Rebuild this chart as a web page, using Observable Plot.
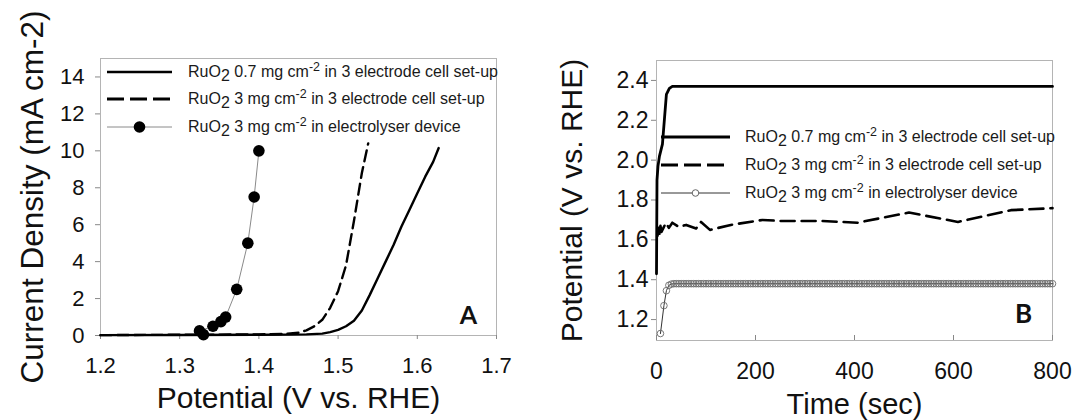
<!DOCTYPE html>
<html>
<head>
<meta charset="utf-8">
<script src="https://cdn.jsdelivr.net/npm/d3@7"></script>
<script src="https://cdn.jsdelivr.net/npm/@observablehq/plot@0.6"></script>
<style>
  html,body{margin:0;padding:0;background:#fff;}
  #wrap{position:relative;width:1075px;height:420px;overflow:hidden;font-family:"Liberation Sans",Arial,sans-serif;}
  .panel{position:absolute;top:0;}
  .legend-row{position:absolute;height:22px;display:flex;align-items:center;white-space:nowrap;font-size:16px;color:#1a1a1a;}
  .legend-row svg{flex:none;overflow:visible;}
  .sub{position:relative;top:0.28em;}
  .sup{position:relative;top:-0.45em;font-size:0.78em;}
</style>
</head>
<body>
<div id="wrap"></div>
<script>
// ---------- Panel A data ----------
const aXTicks = [1.2, 1.3, 1.4, 1.5, 1.6, 1.7];
const aYTicks = [0, 2, 4, 6, 8, 10, 12, 14];
const aXTitle = "Potential (V vs. RHE)";
const aYTitle = "Current Density (mA cm-2)";
const aPanelLabel = "A";

const a07Potential = [1.20, 1.30, 1.40, 1.44, 1.46, 1.48, 1.49, 1.50, 1.51, 1.52, 1.53, 1.54, 1.55, 1.56, 1.57, 1.58, 1.59, 1.60, 1.61, 1.62, 1.627];
const a07Current   = [0.02, 0.03, 0.04, 0.05, 0.06, 0.10, 0.18, 0.30, 0.50, 0.80, 1.35, 2.20, 3.10, 4.00, 4.90, 5.90, 6.80, 7.70, 8.60, 9.40, 10.15];

const a3Potential = [1.20, 1.30, 1.40, 1.43, 1.45, 1.46, 1.47, 1.48, 1.49, 1.50, 1.51, 1.52, 1.53, 1.538];
const a3Current   = [0.02, 0.04, 0.06, 0.08, 0.15, 0.28, 0.50, 0.85, 1.50, 2.40, 3.80, 6.20, 8.80, 10.40];

const aDevPotential = [1.330, 1.325, 1.342, 1.352, 1.358, 1.372, 1.386, 1.394, 1.400];
const aDevCurrent   = [0.05, 0.25, 0.50, 0.75, 1.00, 2.50, 5.00, 7.50, 10.00];

// ---------- Panel B data ----------
const bXTicks = [0, 200, 400, 600, 800];
const bYTicks = [1.2, 1.4, 1.6, 1.8, 2.0, 2.2, 2.4];
const bXTitle = "Time (sec)";
const bYTitle = "Potential (V vs. RHE)";
const bPanelLabel = "B";

const b07Time      = [0, 1, 3, 6, 12, 20, 26, 32, 800];
const b07Potential = [1.43, 1.90, 1.97, 2.02, 2.08, 2.33, 2.36, 2.37, 2.37];

const b3Time      = [2, 4, 6, 8, 10, 14, 19, 25, 32, 45, 60, 80, 90, 108, 150, 214, 250, 330, 406, 510, 609, 716, 800];
const b3Potential = [1.62, 1.66, 1.63, 1.67, 1.64, 1.66, 1.685, 1.66, 1.686, 1.665, 1.675, 1.657, 1.69, 1.65, 1.675, 1.70, 1.695, 1.695, 1.686, 1.737, 1.69, 1.749, 1.759];

const bDevTime = [8, 15, 20, 25,
  30, 35, 40, 45, 50, 55, 60, 65, 70, 75,
  80, 85, 90, 95, 100, 105, 110, 115, 120, 125,
  130, 135, 140, 145, 150, 155, 160, 165, 170, 175,
  180, 185, 190, 195, 200, 205, 210, 215, 220, 225,
  230, 235, 240, 245, 250, 255, 260, 265, 270, 275,
  280, 285, 290, 295, 300, 305, 310, 315, 320, 325,
  330, 335, 340, 345, 350, 355, 360, 365, 370, 375,
  380, 385, 390, 395, 400, 405, 410, 415, 420, 425,
  430, 435, 440, 445, 450, 455, 460, 465, 470, 475,
  480, 485, 490, 495, 500, 505, 510, 515, 520, 525,
  530, 535, 540, 545, 550, 555, 560, 565, 570, 575,
  580, 585, 590, 595, 600, 605, 610, 615, 620, 625,
  630, 635, 640, 645, 650, 655, 660, 665, 670, 675,
  680, 685, 690, 695, 700, 705, 710, 715, 720, 725,
  730, 735, 740, 745, 750, 755, 760, 765, 770, 775,
  780, 785, 790, 795, 800];
const bDevPotential = [1.13, 1.27, 1.345, 1.372,
  1.378, 1.38, 1.38, 1.38, 1.38, 1.38, 1.38, 1.38, 1.38, 1.38,
  1.38, 1.38, 1.38, 1.38, 1.38, 1.38, 1.38, 1.38, 1.38, 1.38,
  1.38, 1.38, 1.38, 1.38, 1.38, 1.38, 1.38, 1.38, 1.38, 1.38,
  1.38, 1.38, 1.38, 1.38, 1.38, 1.38, 1.38, 1.38, 1.38, 1.38,
  1.38, 1.38, 1.38, 1.38, 1.38, 1.38, 1.38, 1.38, 1.38, 1.38,
  1.38, 1.38, 1.38, 1.38, 1.38, 1.38, 1.38, 1.38, 1.38, 1.38,
  1.38, 1.38, 1.38, 1.38, 1.38, 1.38, 1.38, 1.38, 1.38, 1.38,
  1.38, 1.38, 1.38, 1.38, 1.38, 1.38, 1.38, 1.38, 1.38, 1.38,
  1.38, 1.38, 1.38, 1.38, 1.38, 1.38, 1.38, 1.38, 1.38, 1.38,
  1.38, 1.38, 1.38, 1.38, 1.38, 1.38, 1.38, 1.38, 1.38, 1.38,
  1.38, 1.38, 1.38, 1.38, 1.38, 1.38, 1.38, 1.38, 1.38, 1.38,
  1.38, 1.38, 1.38, 1.38, 1.38, 1.38, 1.38, 1.38, 1.38, 1.38,
  1.38, 1.38, 1.38, 1.38, 1.38, 1.38, 1.38, 1.38, 1.38, 1.38,
  1.38, 1.38, 1.38, 1.38, 1.38, 1.38, 1.38, 1.38, 1.38, 1.38,
  1.38, 1.38, 1.38, 1.38, 1.38, 1.38, 1.38, 1.38, 1.38, 1.38,
  1.38, 1.38, 1.38, 1.38, 1.38];

// ---------- Legend text ----------
const legendLoadings = ["0.7", "3", "3"];
const legendSetups = ["in 3 electrode cell set-up", "in 3 electrode cell set-up", "in electrolyser device"];

// ---------- helpers ----------
const FONT = '"Liberation Sans", Arial, sans-serif';
const pts = (xs, ys) => xs.map((x, i) => ({x, y: ys[i]}));

const a07 = pts(a07Potential, a07Current);
const a3 = pts(a3Potential, a3Current);
const aDev = pts(aDevPotential, aDevCurrent);
const b07 = pts(b07Time, b07Potential);
const b3 = pts(b3Time, b3Potential);
const bDev = pts(bDevTime, bDevPotential);

const wrap = document.getElementById("wrap");

// ---------- Panel A ----------
const plotA = Plot.plot({
  width: 540, height: 420,
  marginLeft: 100, marginRight: 44, marginTop: 58, marginBottom: 85,
  style: {fontFamily: FONT, background: "transparent", overflow: "visible", color: "#111"},
  x: {domain: [1.2, 1.7]},
  y: {domain: [0, 15]},
  marks: [
    Plot.frame({stroke: "#b4b4b4"}),
    Plot.axisY(aYTicks, {tickSize: 5, tickPadding: 11, fontSize: 22, stroke: "#888", fill: "#111", label: null}),
    Plot.axisX(aXTicks, {tickSize: 4, tickPadding: 18, fontSize: 22, stroke: "#888", fill: "#111", label: null, tickFormat: d3.format(".1f")}),
    Plot.line(a3, {x: "x", y: "y", stroke: "#000", strokeWidth: 2.4, strokeDasharray: "11,6"}),
    Plot.line(a07, {x: "x", y: "y", stroke: "#000", strokeWidth: 2.4}),
    Plot.line(aDev, {x: "x", y: "y", stroke: "#8a8a8a", strokeWidth: 1}),
    Plot.dot(aDev, {x: "x", y: "y", r: 5.8, fill: "#000", stroke: "none"}),
    Plot.text([aXTitle], {frameAnchor: "bottom", dy: 63, fontSize: 30, fill: "#111", textAnchor: "middle", lineAnchor: "middle"}),
    Plot.text([aYTitle], {frameAnchor: "left", rotate: -90, dx: -68, fontSize: 31.5, fill: "#111", textAnchor: "middle", lineAnchor: "middle"}),
    Plot.text([aPanelLabel], {frameAnchor: "bottom-right", dx: -28, dy: -20, fontSize: 25, fontWeight: "bold", fontFamily: "Lato, sans-serif", textAnchor: "middle", lineAnchor: "middle", fill: "#111"})
  ]
});
plotA.classList.add("panel");
plotA.style.left = "0px";
wrap.appendChild(plotA);

// ---------- Panel B ----------
const plotB = Plot.plot({
  width: 535, height: 420,
  marginLeft: 116, marginRight: 23, marginTop: 60, marginBottom: 80,
  style: {fontFamily: FONT, background: "transparent", overflow: "visible", color: "#111"},
  x: {domain: [0, 800]},
  y: {domain: [1.095, 2.5]},
  marks: [
    Plot.frame({stroke: "#b4b4b4"}),
    Plot.axisY(bYTicks, {tickSize: 5, tickPadding: 3, fontSize: 23, stroke: "#888", fill: "#111", label: null, tickFormat: d3.format(".1f")}),
    Plot.axisX(bXTicks, {tickSize: 0, tickPadding: 22, fontSize: 23, fill: "#111", label: null}),
    Plot.tickX(bXTicks, {x: d => d, insetTop: 275, stroke: "#888"}),
    Plot.line(b3, {x: "x", y: "y", stroke: "#000", strokeWidth: 2.6, strokeDasharray: "14,7"}),
    Plot.line(b07, {x: "x", y: "y", stroke: "#000", strokeWidth: 2.8}),
    Plot.line(bDev, {x: "x", y: "y", stroke: "#333", strokeWidth: 1}),
    Plot.dot(bDev, {x: "x", y: "y", r: 3.3, stroke: "#6a6a6a", fill: "none", strokeWidth: 0.9}),
    Plot.text([bXTitle], {frameAnchor: "bottom", dy: 64, fontSize: 29, fill: "#111", textAnchor: "middle", lineAnchor: "middle"}),
    Plot.text([bYTitle], {frameAnchor: "left", rotate: -90, dx: -84, fontSize: 30, fill: "#111", textAnchor: "middle", lineAnchor: "middle"}),
    Plot.text([bPanelLabel], {frameAnchor: "bottom-right", dx: -29, dy: -26, fontSize: 26, fontWeight: "bold", fontFamily: "Lato, sans-serif", textAnchor: "middle", lineAnchor: "middle", fill: "#111"})
  ]
});
plotB.classList.add("panel");
plotB.style.left = "540px";
wrap.appendChild(plotB);

// ---------- Legends (HTML overlays) ----------
const NS = "http://www.w3.org/2000/svg";
function swatch(width, kind, panel) {
  const svg = document.createElementNS(NS, "svg");
  svg.setAttribute("width", width);
  svg.setAttribute("height", 14);
  const line = document.createElementNS(NS, "line");
  line.setAttribute("x1", 0); line.setAttribute("x2", width);
  line.setAttribute("y1", 7); line.setAttribute("y2", 7);
  if (kind === 0) { line.setAttribute("stroke", "#000"); line.setAttribute("stroke-width", panel === "A" ? 2.6 : 2.8); }
  if (kind === 1) { line.setAttribute("stroke", "#000"); line.setAttribute("stroke-width", 2.8); line.setAttribute("stroke-dasharray", "17,6"); }
  if (kind === 2) { line.setAttribute("stroke", panel === "A" ? "#8a8a8a" : "#333"); line.setAttribute("stroke-width", 1); }
  svg.appendChild(line);
  if (kind === 2) {
    const c = document.createElementNS(NS, "circle");
    c.setAttribute("cx", width / 2); c.setAttribute("cy", 7);
    if (panel === "A") { c.setAttribute("r", 5.8); c.setAttribute("fill", "#000"); }
    else { c.setAttribute("r", 3.3); c.setAttribute("fill", "#fff"); c.setAttribute("stroke", "#666"); }
    svg.appendChild(c);
  }
  return svg;
}
function legend(panel, left, swW, gap, centers) {
  centers.forEach((cy, i) => {
    const row = document.createElement("div");
    row.className = "legend-row";
    row.style.left = left + "px";
    row.style.top = (cy - 11) + "px";
    const sw = swatch(swW, i, panel);
    sw.style.marginRight = gap + "px";
    row.appendChild(sw);
    const span = document.createElement("span");
    span.innerHTML = 'RuO<span class="sub">2</span> ' + legendLoadings[i] + ' mg cm<span class="sup">-2</span> ' + legendSetups[i];
    row.appendChild(span);
    wrap.appendChild(row);
  });
}
legend("A", 107, 65, 16, [72, 99, 127]);
legend("B", 661, 69, 15, [137, 165, 193]);
</script>
</body>
</html>
